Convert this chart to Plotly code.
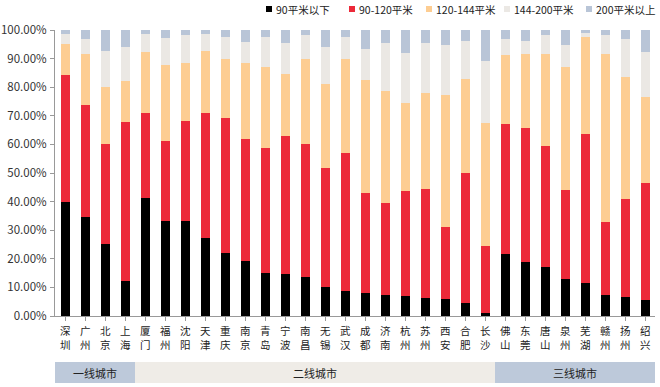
import plotly.graph_objects as go

cities = ["深圳", "广州", "北京", "上海", "厦门", "福州", "沈阳", "天津", "重庆", "南京",
          "青岛", "宁波", "南昌", "无锡", "武汉", "成都", "济南", "杭州", "苏州", "西安",
          "合肥", "长沙", "佛山", "东莞", "唐山", "泉州", "芜湖", "赣州", "扬州", "绍兴"]

s_lt90 = [39.8, 34.6, 25.3, 12.3, 41.4, 33.3, 33.3, 27.2, 22.0, 19.2,
          15.1, 14.8, 13.7, 10.1, 8.7, 8.1, 7.2, 7.0, 6.3, 5.8,
          4.5, 1.2, 21.8, 18.8, 17.1, 12.8, 11.5, 7.4, 6.5, 5.6]
s_90_120 = [44.3, 39.1, 34.8, 55.5, 29.7, 27.9, 35.0, 43.7, 47.2, 42.8,
            43.7, 48.1, 46.4, 41.7, 48.3, 34.8, 32.2, 36.7, 38.2, 25.2,
            45.4, 23.2, 45.4, 47.0, 42.5, 31.4, 52.2, 25.6, 34.4, 40.8]
s_120_144 = [11.1, 18.0, 20.1, 14.4, 21.3, 26.6, 20.2, 21.9, 20.8, 26.3,
             28.3, 21.8, 29.9, 29.3, 33.0, 39.7, 39.4, 30.8, 33.4, 46.4,
             33.0, 43.2, 23.9, 25.9, 32.1, 42.8, 33.8, 58.6, 42.8, 30.2]
s_144_200 = [3.4, 5.1, 12.6, 11.8, 6.3, 9.5, 9.7, 5.9, 7.7, 7.5,
             10.3, 10.9, 8.4, 12.9, 7.4, 10.7, 16.8, 17.6, 17.6, 17.4,
             13.2, 21.7, 5.7, 4.4, 6.6, 7.9, 1.4, 6.8, 13.0, 15.6]
s_gt200 = [1.4, 3.2, 7.2, 6.0, 1.3, 2.7, 1.8, 1.3, 2.3, 4.2,
           2.6, 4.4, 1.6, 6.0, 2.6, 6.7, 4.4, 7.9, 4.5, 5.2,
           3.9, 10.7, 3.2, 3.9, 1.7, 5.1, 1.1, 1.6, 3.3, 7.8]

series_names = ["90平米以下", "90-120平米", "120-144平米", "144-200平米", "200平米以上"]
series_colors = ["#000000", "#EC2939", "#FDCD92", "#EBE8E4", "#B9C5D7"]
legend_left_px = [266, 349, 426, 504, 586]

tiers = ["一线城市", "二线城市", "三线城市"]
tier_counts = [4, 18, 8]
tier_colors = ["#BDC9DA", "#EFECE7", "#BDC9DA"]

W, H = 660, 387
L, R, T, B = 55, 5, 30, 71
PW, PH = W - L - R, H - T - B


def px_x(px):
    return (px - L) / PW


def px_y(py):
    return (H - B - py) / PH


n = len(cities)
xs = list(range(n))

fig = go.Figure()
for name, vals, col in zip(series_names, [s_lt90, s_90_120, s_120_144, s_144_200, s_gt200], series_colors):
    fig.add_trace(go.Bar(x=xs, y=[v / 100 for v in vals], name=name, showlegend=False,
                         marker=dict(color=col, line=dict(width=0))))

# legend drawn as shapes + text
for name, col, lx in zip(series_names, series_colors, legend_left_px):
    fig.add_shape(type="rect", xref="paper", yref="paper",
                  x0=px_x(lx), x1=px_x(lx + 6), y0=px_y(12), y1=px_y(6),
                  fillcolor=col, line=dict(width=0))
    fig.add_annotation(x=px_x(lx + 8), y=px_y(9), xref="paper", yref="paper",
                       xanchor="left", yanchor="middle", text=name, showarrow=False,
                       font=dict(size=10.5, color="#222222"))

# category labels, characters stacked vertically
for i, c in enumerate(cities):
    fig.add_annotation(x=i, y=px_y(337), xref="x", yref="paper",
                       text="<br>".join(list(c)), showarrow=False, yanchor="middle",
                       font=dict(size=10.5, color="#222222"))

# tier band
start = -0.5
for t, cnt, c in zip(tiers, tier_counts, tier_colors):
    fig.add_shape(type="rect", xref="x", yref="paper", x0=start, x1=start + cnt,
                  y0=px_y(383), y1=px_y(362), fillcolor=c, line=dict(width=0), layer="below")
    fig.add_annotation(x=start + cnt / 2, y=px_y(372.5), xref="x", yref="paper", text=t,
                       showarrow=False, yanchor="middle", font=dict(size=11, color="#222222"))
    start += cnt

fig.update_layout(
    barmode="stack", bargap=0.55,
    width=W, height=H,
    margin=dict(l=L, r=R, t=T, b=B, autoexpand=False),
    plot_bgcolor="white", paper_bgcolor="white",
    font=dict(family="Noto Sans CJK SC, Noto Sans, sans-serif", color="#333333", size=12),
    showlegend=False,
    xaxis=dict(tickmode="array", tickvals=xs, ticktext=[""] * n,
               range=[-0.5, n - 0.5], showline=True, linecolor="#999999",
               ticks="outside", tickson="boundaries", ticklen=4, tickcolor="#999999",
               showgrid=False, zeroline=False),
    yaxis=dict(range=[0, 1.0], tickformat=".2%", dtick=0.1, showline=True, linecolor="#999999",
               ticks="outside", ticklen=4, tickcolor="#999999", showgrid=False,
               zeroline=False, ticklabelstandoff=1, tickfont=dict(size=11.5, color="#333333")),
)

fig.write_html("out.html", config={"displayModeBar": False},
               post_script="document.body.style.margin='0';document.body.style.padding='0';")
